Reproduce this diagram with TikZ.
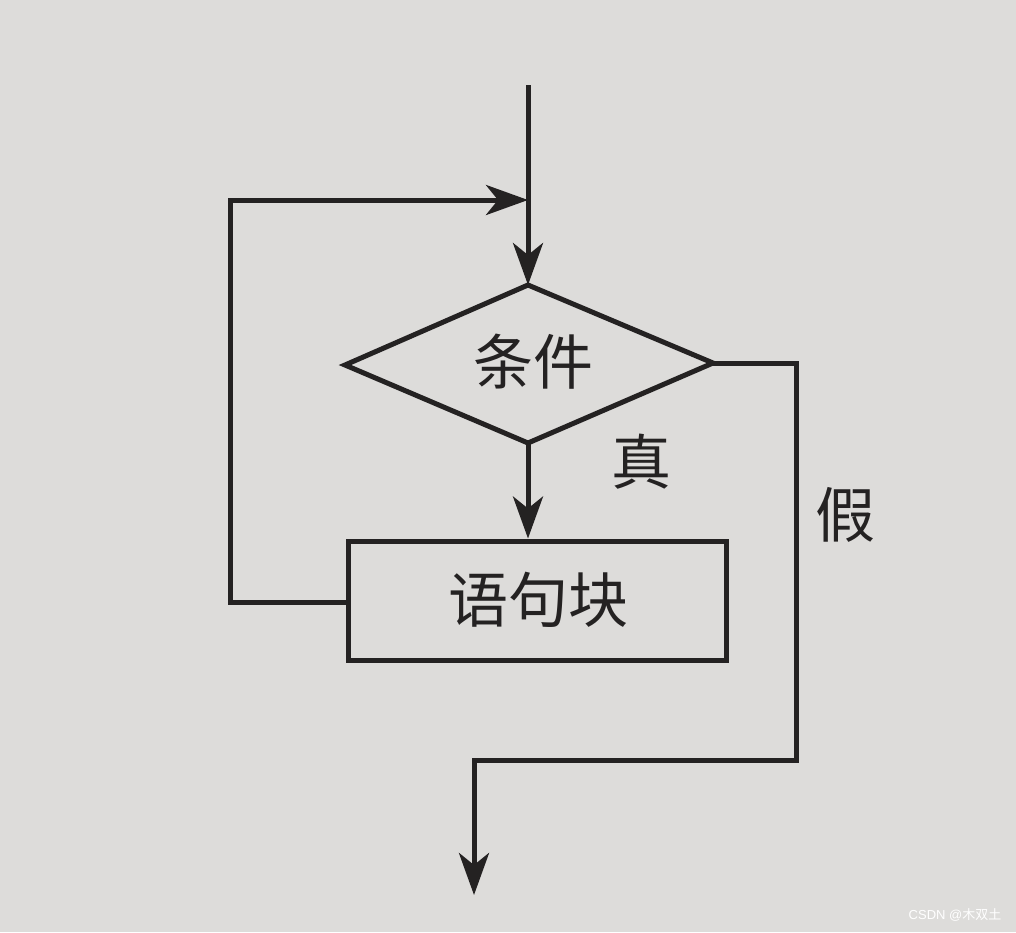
\documentclass[tikz,border=0pt]{standalone}
\usepackage{fontspec}
\newfontfamily\cjk{Noto Sans CJK SC}
\setmainfont{Liberation Sans}
\usetikzlibrary{arrows.meta,shapes.geometric}
\definecolor{paper}{HTML}{DDDCDA}
\definecolor{ink}{HTML}{242222}
\tikzset{
  flow/.style={draw=ink,line width=5pt,line cap=butt,line join=miter},
  arr/.style={flow,-{Stealth[length=42pt,width=30pt,inset=12pt]}},
  lbl/.style={text=ink,font=\cjk\fontsize{60}{64}\selectfont,inner sep=0pt},
}
\begin{document}
\begin{tikzpicture}[x=1pt,y=-1pt]
\fill[paper] (0,0) rectangle (1016,932);
\useasboundingbox (0,0) rectangle (1016,932);
% diamond
\draw[flow,fill=paper] (528,285) -- (713,363) -- (528,443) -- (345,365) -- cycle;
\coordinate (dT) at (528,285);
\coordinate (dR) at (713,363);
\coordinate (dB) at (528,443);
\node[lbl] (cond) at (533,362) {条件};
% block
\node[flow,rectangle,minimum width=378pt,minimum height=119pt,inner sep=0pt] (blk) at (537,600.5) {};
\node[lbl] at (538,600) {语句块};
% entries
\coordinate (top) at (528,85);
\coordinate (join) at (528,200);
\coordinate (out) at (474,895);
\draw[arr] (top) -- (dT);
\draw[arr] (blk.west |- 0,602) -- (230,602) -- (230,200) -- (join);
\draw[arr] (dB) -- (dB |- blk.north);
\draw[arr] (dR) -- (796,363) -- (796,760) -- (474,760) -- (out);
\node[lbl] (t) at (641,462) {真};
\node[lbl] (f) at (845,515) {假};
\node[text=white,font=\fontsize{13}{14}\selectfont,inner sep=0pt] (wm) at (955,915) {CSDN @\cjk 木双土};
\end{tikzpicture}
\end{document}
